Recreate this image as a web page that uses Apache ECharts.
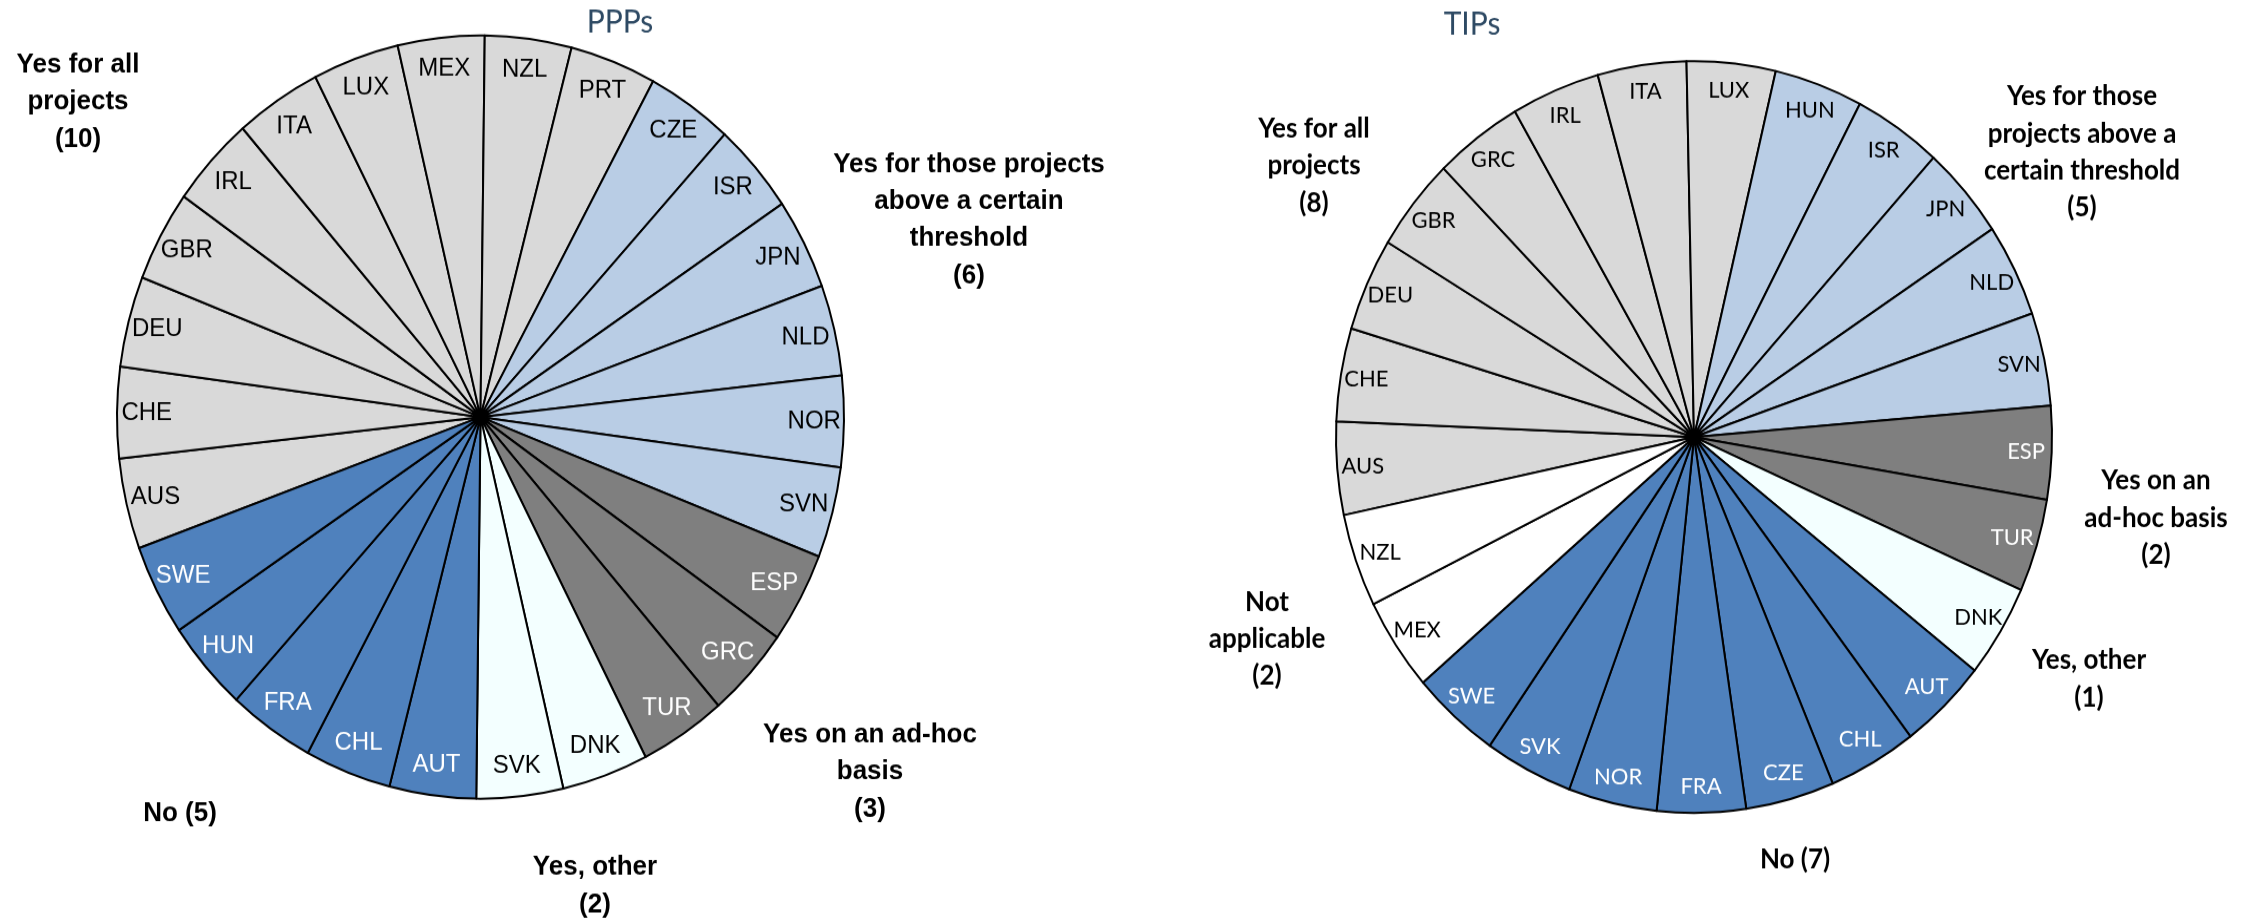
<!DOCTYPE html>
<html>
<head>
<meta charset="utf-8">
<script src="https://cdn.jsdelivr.net/npm/echarts@6/dist/echarts.min.js"></script>
<style>
  html, body { margin: 0; padding: 0; background: #ffffff; width: 2259px; height: 922px; }
  /* the figure is drawn slightly taller than wide, so the pies come out as upright ellipses */
  #chart { width: 2259px; height: 878px; transform: scaleY(1.05); transform-origin: 0 0; }
</style>
</head>
<body>
<div id="chart"></div>
<script>
// ---- Data: PPPs ----
const pppGroups = ['Yes for all projects', 'Yes for those projects above a certain threshold', 'Yes on an ad-hoc basis', 'Yes, other', 'No'];
const pppAll = ['AUS', 'CHE', 'DEU', 'GBR', 'IRL', 'ITA', 'LUX', 'MEX', 'NZL', 'PRT'];
const pppThreshold = ['CZE', 'ISR', 'JPN', 'NLD', 'NOR', 'SVN'];
const pppAdHoc = ['ESP', 'GRC', 'TUR'];
const pppOther = ['DNK', 'SVK'];
const pppNo = ['AUT', 'CHL', 'FRA', 'HUN', 'SWE'];

// ---- Data: TIPs ----
const tipGroups = ['Yes for all projects', 'Yes for those projects above a certain threshold', 'Yes on an ad-hoc basis', 'Yes, other', 'No', 'Not applicable'];
const tipAll = ['AUS', 'CHE', 'DEU', 'GBR', 'GRC', 'IRL', 'ITA', 'LUX'];
const tipThreshold = ['HUN', 'ISR', 'JPN', 'NLD', 'SVN'];
const tipAdHoc = ['ESP', 'TUR'];
const tipOther = ['DNK'];
const tipNo = ['AUT', 'CHL', 'CZE', 'FRA', 'NOR', 'SVK', 'SWE'];
const tipNA = ['MEX', 'NZL'];

// each country counts as one slice
const countryWeight = 1;

// ---- Styling ----
const SY = 1.05; // vertical stretch applied to the chart container

const groupFill = {
  'Yes for all projects': '#D9D9D9',
  'Yes for those projects above a certain threshold': '#B9CDE5',
  'Yes on an ad-hoc basis': '#7F7F7F',
  'Yes, other': '#F3FFFF',
  'No': '#4F81BD',
  'Not applicable': '#FFFFFF'
};
const groupInk = {
  'Yes for all projects': '#000000',
  'Yes for those projects above a certain threshold': '#000000',
  'Yes on an ad-hoc basis': '#FFFFFF',
  'Yes, other': '#000000',
  'No': '#FFFFFF',
  'Not applicable': '#000000'
};

const narrowFont = '"Liberation Sans Narrow", "Arial Narrow", "Liberation Sans", Arial, sans-serif';
const roundFont = 'Lato, "Open Sans", sans-serif';

function buildSlices(groups, members) {
  const out = [];
  groups.forEach((g, i) => {
    members[i].forEach(c => {
      out.push({
        name: c,
        value: countryWeight,
        group: g,
        itemStyle: { color: groupFill[g] },
        label: { color: groupInk[g] }
      });
    });
  });
  return out;
}

const pppSlices = buildSlices(pppGroups, [pppAll, pppThreshold, pppAdHoc, pppOther, pppNo]);
const tipSlices = buildSlices(tipGroups, [tipAll, tipThreshold, tipAdHoc, tipOther, tipNo, tipNA]);

function countOf(slices, g) { return slices.filter(s => s.group === g).length; }

// wrapped group captions as they appear beside each pie
const pppCaptionText = {
  'Yes for all projects': 'Yes for all\nprojects',
  'Yes for those projects above a certain threshold': 'Yes for those projects\nabove a certain\nthreshold',
  'Yes on an ad-hoc basis': 'Yes on an ad-hoc\nbasis',
  'Yes, other': 'Yes, other',
  'No': 'No'
};
const tipCaptionText = {
  'Yes for all projects': 'Yes for all\nprojects',
  'Yes for those projects above a certain threshold': 'Yes for those\nprojects above a\ncertain threshold',
  'Yes on an ad-hoc basis': 'Yes on an\nad-hoc basis',
  'Yes, other': 'Yes, other',
  'No': 'No',
  'Not applicable': 'Not\napplicable'
};
// caption anchor points (page pixels)
const pppCaptionPos = {
  'Yes for all projects': [78, 102],
  'Yes for those projects above a certain threshold': [969, 220],
  'Yes on an ad-hoc basis': [870, 772],
  'Yes, other': [595, 886],
  'No': [180, 814]
};
const tipCaptionPos = {
  'Yes for all projects': [1314, 166],
  'Yes for those projects above a certain threshold': [2082, 152],
  'Yes on an ad-hoc basis': [2156, 518],
  'Yes, other': [2089, 679],
  'No': [1795, 860],
  'Not applicable': [1267, 639]
};

function captions(groups, slices, texts, pos, font) {
  return groups.map(g => {
    const n = countOf(slices, g);
    const txt = g === 'No' ? texts[g] + ' (' + n + ')' : texts[g] + '\n(' + n + ')';
    return {
      type: 'text',
      x: pos[g][0],
      y: pos[g][1] / SY,
      silent: true,
      style: {
        text: txt,
        font: font,
        fill: '#000000',
        align: 'center',
        verticalAlign: 'middle',
        lineHeight: 37 / SY
      }
    };
  });
}

const pppCenter = [480.5, 417 / SY], pppR = 363.5;
const tipCenter = [1694, 437 / SY], tipR = 358;

function pieSeries(slices, center, r, startAngle) {
  return {
    type: 'pie',
    center: center,
    radius: [0, r],
    startAngle: startAngle,
    clockwise: true,
    silent: true,
    animation: false,
    label: { show: false },
    labelLine: { show: false },
    emphasis: { disabled: true },
    itemStyle: { borderColor: '#000000', borderWidth: 2 },
    data: slices
  };
}

function labelRing(slices, center, r0, r1, startAngle, font, size) {
  return {
    type: 'pie',
    center: center,
    radius: [r0, r1],
    startAngle: startAngle,
    clockwise: true,
    silent: true,
    animation: false,
    avoidLabelOverlap: false,
    emphasis: { disabled: true },
    labelLine: { show: false },
    itemStyle: { color: 'rgba(0,0,0,0)', borderWidth: 0 },
    label: {
      show: true,
      position: 'inside',
      rotate: 0,
      formatter: '{b}',
      fontFamily: font,
      fontSize: size
    },
    data: slices.map(s => ({
      name: s.name,
      value: s.value,
      itemStyle: { color: 'rgba(0,0,0,0)' },
      label: { color: s.label.color }
    }))
  };
}

const chart = echarts.init(document.getElementById('chart'), null, { renderer: 'canvas' });
chart.setOption({
  backgroundColor: '#ffffff',
  animation: false,
  series: [
    pieSeries(pppSlices, pppCenter, pppR, 200.1),
    labelRing(pppSlices, pppCenter, pppR * 0.82, pppR, 200.1, narrowFont, 24),
    pieSeries(tipSlices, tipCenter, tipR, 192),
    labelRing(tipSlices, tipCenter, tipR * 0.84, tipR, 192, roundFont, 22)
  ],
  graphic: [
    { type: 'text', x: 620, y: 22 / SY, silent: true,
      style: { text: 'PPPs', font: '30px ' + roundFont, fill: '#2E4A64', align: 'center', verticalAlign: 'middle' } },
    { type: 'text', x: 1472, y: 24 / SY, silent: true,
      style: { text: 'TIPs', font: '30px ' + roundFont, fill: '#2E4A64', align: 'center', verticalAlign: 'middle' } }
  ].concat(
    captions(pppGroups, pppSlices, pppCaptionText, pppCaptionPos, 'bold 26px ' + narrowFont),
    captions(tipGroups, tipSlices, tipCaptionText, tipCaptionPos, 'bold 26px ' + roundFont)
  )
});
</script>
</body>
</html>
